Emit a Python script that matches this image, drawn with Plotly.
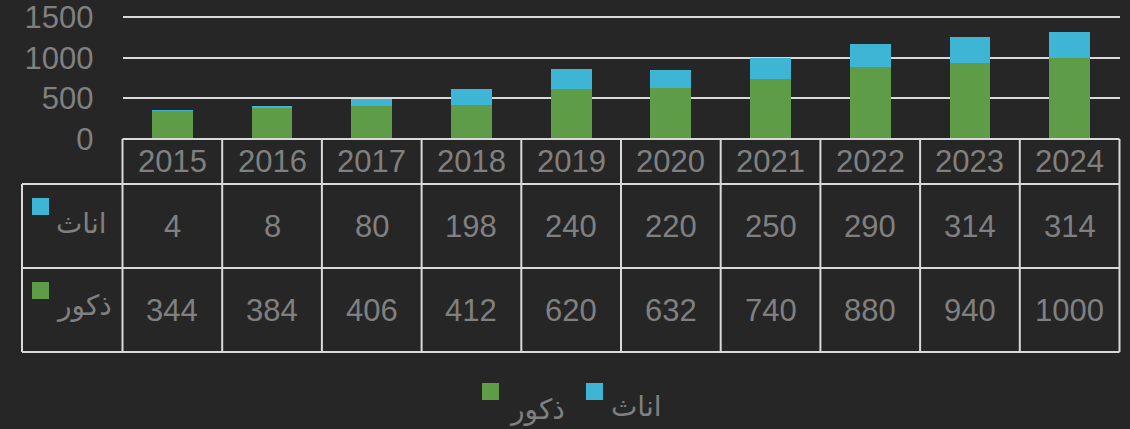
import plotly.graph_objects as go

years = ["2015", "2016", "2017", "2018", "2019", "2020", "2021", "2022", "2023", "2024"]
males = [344, 384, 406, 412, 620, 632, 740, 880, 940, 1000]
females = [4, 8, 80, 198, 240, 220, 250, 290, 314, 314]
male_label = "ذكور"
female_label = "اناث"
y_ticks = [0, 500, 1000, 1500]

W, H = 1130, 429
BG = "#262626"
GREEN = "#5e9c47"
BLUE = "#3fb5d6"
TXT = "#808080"
LINE = "#d9d9d9"
FONT = "Liberation Sans, Arial, DejaVu Sans, sans-serif"
FS = 31


def px(x):
    return x / W


def py(y):
    return 1 - y / H


x0_px, x1_px = 122.5, 1119.5
dom = [px(x0_px), px(x1_px)]
y_top_px, y_zero_px = 17, 139
ymax = 1520
ydom = [py(y_zero_px), py(y_zero_px - (y_zero_px - y_top_px) * ymax / 1500)]

fig = go.Figure()
fig.add_trace(go.Bar(x=years, y=males, name=male_label, marker=dict(color=GREEN, line=dict(width=0))))
fig.add_trace(go.Bar(x=years, y=females, name=female_label, marker=dict(color=BLUE, line=dict(width=0))))

shapes = []
annotations = []

# table geometry (pixels)
hdr_bot, row1_bot, row2_bot = 184, 268, 352
left_px = 22
n = len(years)
colw = (x1_px - x0_px) / n
line = dict(color=LINE, width=2)

# horizontal lines
shapes.append(dict(type="line", xref="paper", yref="paper", x0=px(x0_px), x1=px(x1_px), y0=py(y_zero_px), y1=py(y_zero_px), line=line))
for yy in (hdr_bot, row1_bot, row2_bot):
    shapes.append(dict(type="line", xref="paper", yref="paper", x0=px(left_px), x1=px(x1_px), y0=py(yy), y1=py(yy), line=line))
# vertical lines
shapes.append(dict(type="line", xref="paper", yref="paper", x0=px(left_px), x1=px(left_px), y0=py(hdr_bot), y1=py(row2_bot), line=line))
for k in range(n + 1):
    xx = x0_px + k * colw
    shapes.append(dict(type="line", xref="paper", yref="paper", x0=px(xx), x1=px(xx), y0=py(y_zero_px), y1=py(row2_bot), line=line))

font = dict(family=FONT, size=FS, color=TXT)
rows = [(females, 226), (males, 310)]
for i, yr in enumerate(years):
    annotations.append(dict(x=i, xref="x", y=py(161), yref="paper", text=yr,
                            showarrow=False, font=font, xanchor="center", yanchor="middle"))
    for vals, yc in rows:
        annotations.append(dict(x=i, xref="x", y=py(yc), yref="paper", text=str(vals[i]),
                                showarrow=False, font=font, xanchor="center", yanchor="middle"))

# row labels with colour keys
for label, color, sq_top, text_y in [(female_label, BLUE, 198, 223), (male_label, GREEN, 282, 306)]:
    shapes.append(dict(type="rect", xref="paper", yref="paper", x0=px(32), x1=px(49), y0=py(sq_top + 17), y1=py(sq_top),
                       fillcolor=color, line=dict(width=0)))
    annotations.append(dict(x=px(54), xref="paper", y=py(text_y), yref="paper", text=label, showarrow=False,
                            font=dict(family=FONT, size=28, color=TXT), xanchor="left", yanchor="middle"))

# bottom legend
for label, color, sq_x, tx, ty in [(male_label, GREEN, 482, 507, 410), (female_label, BLUE, 586, 609, 406)]:
    shapes.append(dict(type="rect", xref="paper", yref="paper", x0=px(sq_x), x1=px(sq_x + 17), y0=py(400), y1=py(383),
                       fillcolor=color, line=dict(width=0)))
    annotations.append(dict(x=px(tx), xref="paper", y=py(ty), yref="paper", text=label, showarrow=False,
                            font=dict(family=FONT, size=28, color=TXT), xanchor="left", yanchor="middle"))

fig.update_layout(
    width=W, height=H,
    barmode="stack", bargap=0.59,
    paper_bgcolor=BG, plot_bgcolor=BG,
    margin=dict(l=0, r=0, t=0, b=0, pad=0, autoexpand=False),
    showlegend=False,
    shapes=shapes, annotations=annotations,
    xaxis=dict(type="category", domain=dom, range=[-0.5, n - 0.5], showticklabels=False, showgrid=False,
               zeroline=False, showline=False, ticks="", fixedrange=True, automargin=False),
    yaxis=dict(domain=ydom, range=[0, ymax], tickvals=y_ticks, showgrid=True, gridcolor=LINE, gridwidth=2,
               zeroline=False, showline=False, ticks="", ticklabelstandoff=28, automargin=False,
               ticklabeloverflow="allow",
               tickfont=dict(family=FONT, size=FS, color=TXT), fixedrange=True),
    font=dict(family=FONT),
)

post = "document.body.style.margin='0';document.body.style.padding='0';document.body.style.background='%s';document.documentElement.style.overflow='hidden';" % BG
fig.write_html("out.html", post_script=post, config={"displayModeBar": False})
